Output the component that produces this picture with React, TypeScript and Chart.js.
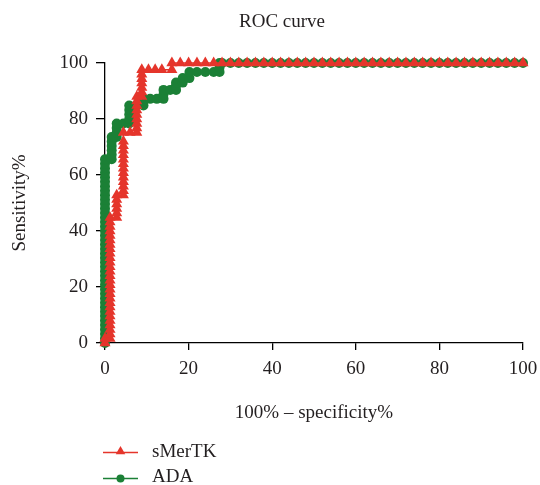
import React, { useEffect, useRef } from "react";
import { Chart, registerables } from "chart.js";

Chart.register(...registerables);

const chartTitle = "ROC curve";
const xAxisTitle = "100% \u2013 specificity%";
const yAxisTitle = "Sensitivity%";
const xTickValues = [0, 20, 40, 60, 80, 100];
const yTickValues = [0, 20, 40, 60, 80, 100];
const seriesNames = ["sMerTK", "ADA"];
const seriesColors = ["#e5352b", "#1b8036"];

// sMerTK: 100% - specificity% (x) and sensitivity% (y)
const smertkFpr = [
  0, 0,
  1.2, 1.2, 1.2, 1.2, 1.2, 1.2, 1.2, 1.2, 1.2, 1.2, 1.2, 1.2, 1.2, 1.2, 1.2, 1.2, 1.2, 1.2, 1.2, 1.2, 1.2, 1.2, 1.2, 1.2, 1.2, 1.2, 1.2, 1.2,
  2.8, 2.8, 2.8, 2.8, 2.8, 2.8,
  4.4, 4.4, 4.4, 4.4, 4.4, 4.4, 4.4, 4.4, 4.4, 4.4, 4.4, 4.4, 4.4, 4.4,
  6, 7.6,
  7.6, 7.6, 7.6, 7.6, 7.6, 7.6, 7.6, 7.6,
  8.8, 8.8, 8.8, 8.8, 8.8, 8.8, 8.8,
  10.4, 12, 13.6, 16,
  16, 18, 20, 22, 24, 26, 28, 30, 32, 34, 36, 38, 40, 42, 44, 46, 48, 50, 52, 54, 56, 58,
  60, 62, 64, 66, 68, 70, 72, 74, 76, 78, 80, 82, 84, 86, 88, 90, 92, 94, 96, 98, 100,
];
const smertkSens = [
  0, 1.6,
  1.6, 3.2, 4.8, 6.4, 8, 9.6, 11.2, 12.8, 14.4, 16, 17.6, 19.2, 20.8, 22.4, 24, 25.6, 27.2, 28.8, 30.4, 32, 33.6, 35.2, 36.8, 38.4, 40, 41.6, 43.2, 44.8,
  44.8, 46.4, 48, 49.6, 51.2, 52.8,
  52.8, 54.4, 56, 57.6, 59.2, 60.8, 62.4, 64, 65.6, 67.2, 68.8, 70.4, 72, 75.2,
  75.2, 75.2,
  76.8, 78.4, 80, 81.6, 83.2, 84.8, 86.4, 88,
  88, 89.6, 91.2, 92.8, 94.4, 96, 97.6,
  97.6, 97.6, 97.6, 97.6,
  100, 100, 100, 100, 100, 100, 100, 100, 100, 100, 100, 100, 100, 100, 100, 100, 100, 100, 100, 100, 100, 100,
  100, 100, 100, 100, 100, 100, 100, 100, 100, 100, 100, 100, 100, 100, 100, 100, 100, 100, 100, 100, 100,
];

// ADA
const adaFpr = [
  0, 0, 0, 0, 0, 0, 0, 0, 0, 0, 0, 0, 0, 0, 0, 0, 0, 0, 0, 0, 0, 0, 0, 0, 0, 0, 0, 0, 0, 0, 0, 0, 0, 0, 0, 0, 0, 0, 0, 0, 0, 0,
  1.6, 1.6, 1.6, 1.6, 1.6, 1.6,
  2.8, 2.8, 2.8, 2.8,
  4.4, 5.8,
  5.8, 5.8, 5.8, 5.8,
  7.4, 9.2,
  9.2, 9.2,
  10.8, 12.4, 14,
  14, 14,
  15.6, 17,
  17, 17,
  18.6,
  18.6,
  20.2,
  20.2,
  22, 24, 26, 27.4,
  27.4, 27.4,
  28, 30, 32, 34, 36, 38, 40, 42, 44, 46, 48, 50, 52, 54, 56, 58,
  60, 62, 64, 66, 68, 70, 72, 74, 76, 78, 80, 82, 84, 86, 88, 90, 92, 94, 96, 98, 100,
];
const adaSens = [
  0, 1.6, 3.2, 4.8, 6.4, 8, 9.6, 11.2, 12.8, 14.4, 16, 17.6, 19.2, 20.8, 22.4, 24, 25.6, 27.2, 28.8, 30.4, 32,
  33.6, 35.2, 36.8, 38.4, 40, 41.6, 43.2, 44.8, 46.4, 48, 49.6, 51.2, 52.8, 54.4, 56, 57.6, 59.2, 60.8, 62.4, 64, 65.6,
  65.6, 67.2, 68.8, 70.4, 72, 73.6,
  73.6, 75.2, 76.8, 78.4,
  78.4, 78.4,
  80, 81.6, 83.2, 84.8,
  84.8, 84.8,
  86.4, 87.2,
  87.2, 87.2, 87.2,
  88.8, 90.4,
  90.4, 90.4,
  92, 93,
  93,
  94.6,
  94.6,
  96.8,
  96.8, 96.8, 96.8, 96.8,
  98.4, 100,
  100, 100, 100, 100, 100, 100, 100, 100, 100, 100, 100, 100, 100, 100, 100, 100,
  100, 100, 100, 100, 100, 100, 100, 100, 100, 100, 100, 100, 100, 100, 100, 100, 100, 100, 100, 100, 100,
];

const FONT = "'Liberation Serif', 'Times New Roman', serif";
const TEXT = "#231f20";

const toPoints = (xs: number[], ys: number[]) => xs.map((x, i) => ({ x, y: ys[i] }));

const decorPlugin = {
  id: "decor",
  afterDraw(chart: any) {
    const ctx = chart.ctx as CanvasRenderingContext2D;
    ctx.save();
    ctx.fillStyle = TEXT;
    ctx.font = `19px ${FONT}`;
    ctx.textAlign = "center";
    ctx.textBaseline = "middle";
    ctx.fillText(chartTitle, 282, 22);

    const rows = [
      { y: 452.5, ty: 452.5, style: "triangle" },
      { y: 478.5, ty: 477, style: "circle" },
    ];
    rows.forEach((r, i) => {
      const color = seriesColors[i];
      ctx.strokeStyle = color;
      ctx.lineWidth = 1.5;
      ctx.beginPath();
      ctx.moveTo(103, r.y);
      ctx.lineTo(138, r.y);
      ctx.stroke();
      ctx.fillStyle = color;
      ctx.beginPath();
      if (r.style === "triangle") {
        const rad = 5.5;
        const cx = 120.5;
        const cy = r.y - 1;
        ctx.moveTo(cx, cy - rad);
        ctx.lineTo(cx + rad * 0.866, cy + rad * 0.5);
        ctx.lineTo(cx - rad * 0.866, cy + rad * 0.5);
        ctx.closePath();
      } else {
        ctx.arc(120.5, r.y, 4, 0, Math.PI * 2);
      }
      ctx.fill();
      ctx.fillStyle = TEXT;
      ctx.textAlign = "left";
      ctx.fillText(seriesNames[i], 152, r.ty);
    });
    ctx.restore();
  },
};

export default function App() {
  const canvasRef = useRef<HTMLCanvasElement | null>(null);

  useEffect(() => {
    if (!canvasRef.current) return;
    const chart = new Chart(canvasRef.current, {
      type: "line",
      data: {
        datasets: [
          {
            label: seriesNames[0],
            data: toPoints(smertkFpr, smertkSens),
            borderColor: seriesColors[0],
            backgroundColor: seriesColors[0],
            pointBackgroundColor: seriesColors[0],
            pointBorderColor: seriesColors[0],
            pointStyle: "triangle",
            pointRadius: 6.4,
            pointBorderWidth: 0,
            borderWidth: 1.5,
            clip: false as any,
            tension: 0,
          },
          {
            label: seriesNames[1],
            data: toPoints(adaFpr, adaSens),
            borderColor: seriesColors[1],
            backgroundColor: seriesColors[1],
            pointBackgroundColor: seriesColors[1],
            pointBorderColor: seriesColors[1],
            pointStyle: "circle",
            pointRadius: 5,
            pointBorderWidth: 0,
            borderWidth: 1.5,
            clip: false as any,
            tension: 0,
          },
        ],
      },
      options: {
        animation: false,
        responsive: true,
        maintainAspectRatio: false,
        layout: { padding: { top: 63, right: 17, bottom: 60, left: 0 } },
        plugins: {
          legend: { display: false },
          title: { display: false },
          tooltip: { enabled: false },
        },
        scales: {
          x: {
            type: "linear",
            min: 0,
            max: 100,
            afterFit: (s: any) => {
              s.height = 82;
              s.paddingLeft = 0;
              s.paddingRight = 0;
            },
            afterBuildTicks: (s: any) => {
              s.ticks = xTickValues.map((v) => ({ value: v }));
            },
            border: { display: true, color: "#000", width: 1.3 },
            grid: { drawOnChartArea: false, drawTicks: true, tickLength: 7, color: "#000", lineWidth: 1.3 },
            ticks: { color: TEXT, font: { family: FONT, size: 19 }, padding: 8, maxRotation: 0 },
            title: {
              display: true,
              text: xAxisTitle,
              color: TEXT,
              font: { family: FONT, size: 19 },
              padding: { top: 0, bottom: 1 },
            },
          },
          y: {
            type: "linear",
            min: 0,
            max: 100,
            afterFit: (s: any) => {
              s.width = 105;
              s.paddingTop = 0;
              s.paddingBottom = 0;
            },
            afterBuildTicks: (s: any) => {
              s.ticks = yTickValues.map((v) => ({ value: v }));
            },
            border: { display: true, color: "#000", width: 1.3 },
            grid: { drawOnChartArea: false, drawTicks: true, tickLength: 9, color: "#000", lineWidth: 1.3 },
            ticks: { color: TEXT, font: { family: FONT, size: 19 }, padding: 8 },
            title: {
              display: true,
              text: yAxisTitle,
              color: TEXT,
              font: { family: FONT, size: 19 },
              padding: { top: 9, bottom: 0 },
            },
          },
        },
      },
      plugins: [decorPlugin],
    });
    return () => chart.destroy();
  }, []);

  return (
    <div style={{ position: "fixed", left: 0, top: 0, width: 540, height: 485, background: "#fff" }}>
      <canvas ref={canvasRef} />
    </div>
  );
}
